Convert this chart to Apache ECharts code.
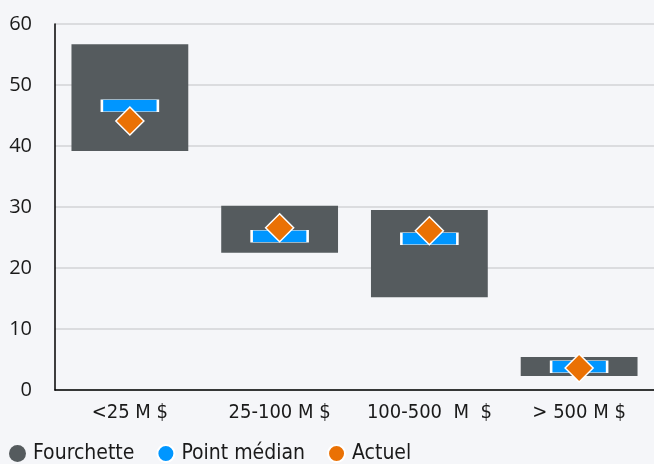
<!DOCTYPE html>
<html>
<head>
<meta charset="utf-8">
<script src="https://cdn.jsdelivr.net/npm/echarts@6/dist/echarts.min.js"></script>
<style>
  html, body { margin: 0; padding: 0; background: #F5F6F9; }
  #chart { width: 654px; height: 464px; }
</style>
</head>
<body>
<div id="chart"></div>
<script>
// Size bands and their ranges (%)
const categories = ['<25 M $', '25-100 M $', '100-500  M  $', '> 500 M $'];
const rangeLow  = [39.2, 22.5, 15.2, 2.3];
const rangeHigh = [56.7, 30.2, 29.5, 5.4];
const medianPoint = [46.6, 25.2, 24.8, 3.8];
const actual = [44.1, 26.6, 26.1, 3.6];

const FONT = '"DejaVu Sans Condensed", "DejaVu Sans", sans-serif';
const NUM_FONT = '"Open Sans", sans-serif';
const GREY = '#555B5E';
const BLUE = '#0096FF';
const ORANGE = '#EA7104';

const chart = echarts.init(document.getElementById('chart'));
chart.setOption({
  backgroundColor: '#F5F6F9',
  animation: false,
  grid: { left: 55, right: 0, top: 24, bottom: 74 },
  legend: {
    left: 9, top: 443, padding: 0,
    icon: 'circle', itemWidth: 17, itemHeight: 17, itemGap: 22,
    textStyle: { fontFamily: FONT, fontSize: 21, color: '#1a1a1a', padding: [0, 0, 0, 2] },
    data: ['Fourchette', 'Point médian', 'Actuel']
  },
  xAxis: {
    type: 'category',
    data: categories,
    axisLine: { lineStyle: { color: '#000', width: 1.5 } },
    axisTick: { show: false },
    axisLabel: { interval: 0, fontFamily: FONT, fontSize: 20, color: '#1a1a1a', margin: 13 }
  },
  yAxis: {
    type: 'value', min: 0, max: 60, interval: 10,
    axisLine: { show: true, lineStyle: { color: '#000', width: 1.5 } },
    axisTick: { show: false },
    splitLine: { lineStyle: { color: '#D2D3D6', width: 1.5 } },
    axisLabel: { fontFamily: NUM_FONT, fontSize: 20, color: '#1a1a1a', margin: 23 }
  },
  series: [
    {
      name: 'base', type: 'bar', stack: 'range', silent: true,
      data: rangeLow,
      itemStyle: { color: 'transparent' },
      barWidth: '78%'
    },
    {
      name: 'Fourchette', type: 'bar', stack: 'range',
      data: rangeHigh.map((h, i) => +(h - rangeLow[i]).toFixed(2)),
      itemStyle: { color: GREY },
      barWidth: '78%'
    },
    {
      name: 'Point médian', type: 'scatter',
      data: medianPoint,
      symbol: 'rect', symbolSize: [56, 12],
      itemStyle: { color: BLUE, opacity: 1, borderColor: '#fff', borderWidth: 1.2 },
      z: 3
    },
    {
      name: 'Actuel', type: 'scatter',
      data: actual,
      symbol: 'diamond', symbolSize: [28, 28],
      itemStyle: { color: ORANGE, opacity: 1, borderColor: '#fff', borderWidth: 1.5 },
      z: 4
    }
  ]
});
</script>
</body>
</html>
